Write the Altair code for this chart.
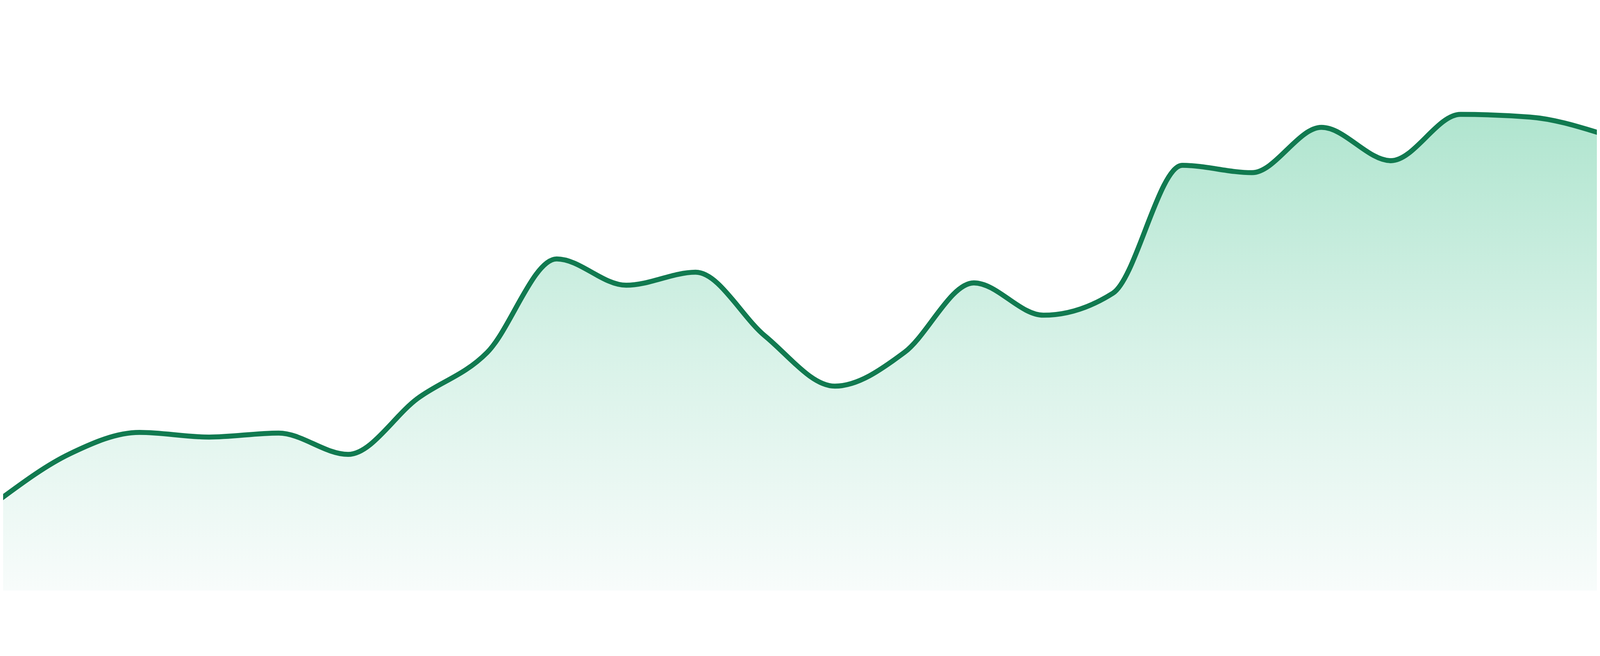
import altair as alt
import pandas as pd

# point index along the x axis (evenly spaced)
idx = list(range(24))
# values (height above the baseline)
values = [275, 411, 475, 461, 473, 409, 577, 715, 996, 917, 956, 764,
          614, 715, 924, 827, 893, 1277, 1255, 1391, 1291, 1430, 1422, 1374]

df = pd.DataFrame({"i": idx, "v": values})

x_enc = alt.X("i:Q", axis=None, scale=alt.Scale(domain=[0.0383, 22.961], nice=False, zero=False))
y_enc = alt.Y("v:Q", axis=None, scale=alt.Scale(domain=[0, 1624], nice=False, zero=True))

area = alt.Chart(df).mark_area(
    interpolate="monotone",
    clip=True,
    color=alt.Gradient(
        gradient="linear",
        stops=[
            alt.GradientStop(color="#b0e5cf", offset=0),
            alt.GradientStop(color="#d8f2e8", offset=0.5),
            alt.GradientStop(color="#f8fcfb", offset=1),
        ],
        x1=0, x2=0, y1=0, y2=1,
    ),
).encode(x=x_enc, y=y_enc)

line = alt.Chart(df).mark_line(
    interpolate="monotone",
    clip=True,
    color="#117a50",
    strokeWidth=15,
).encode(x=x_enc, y=y_enc)

chart = alt.layer(area, line).properties(
    width=4784,
    height=1624,
    autosize=alt.AutoSizeParams(type="none"),
    padding=0,
    background="white",
).configure_view(stroke=None)

chart.save("out.html", embed_options={"renderer": "svg", "actions": False})
